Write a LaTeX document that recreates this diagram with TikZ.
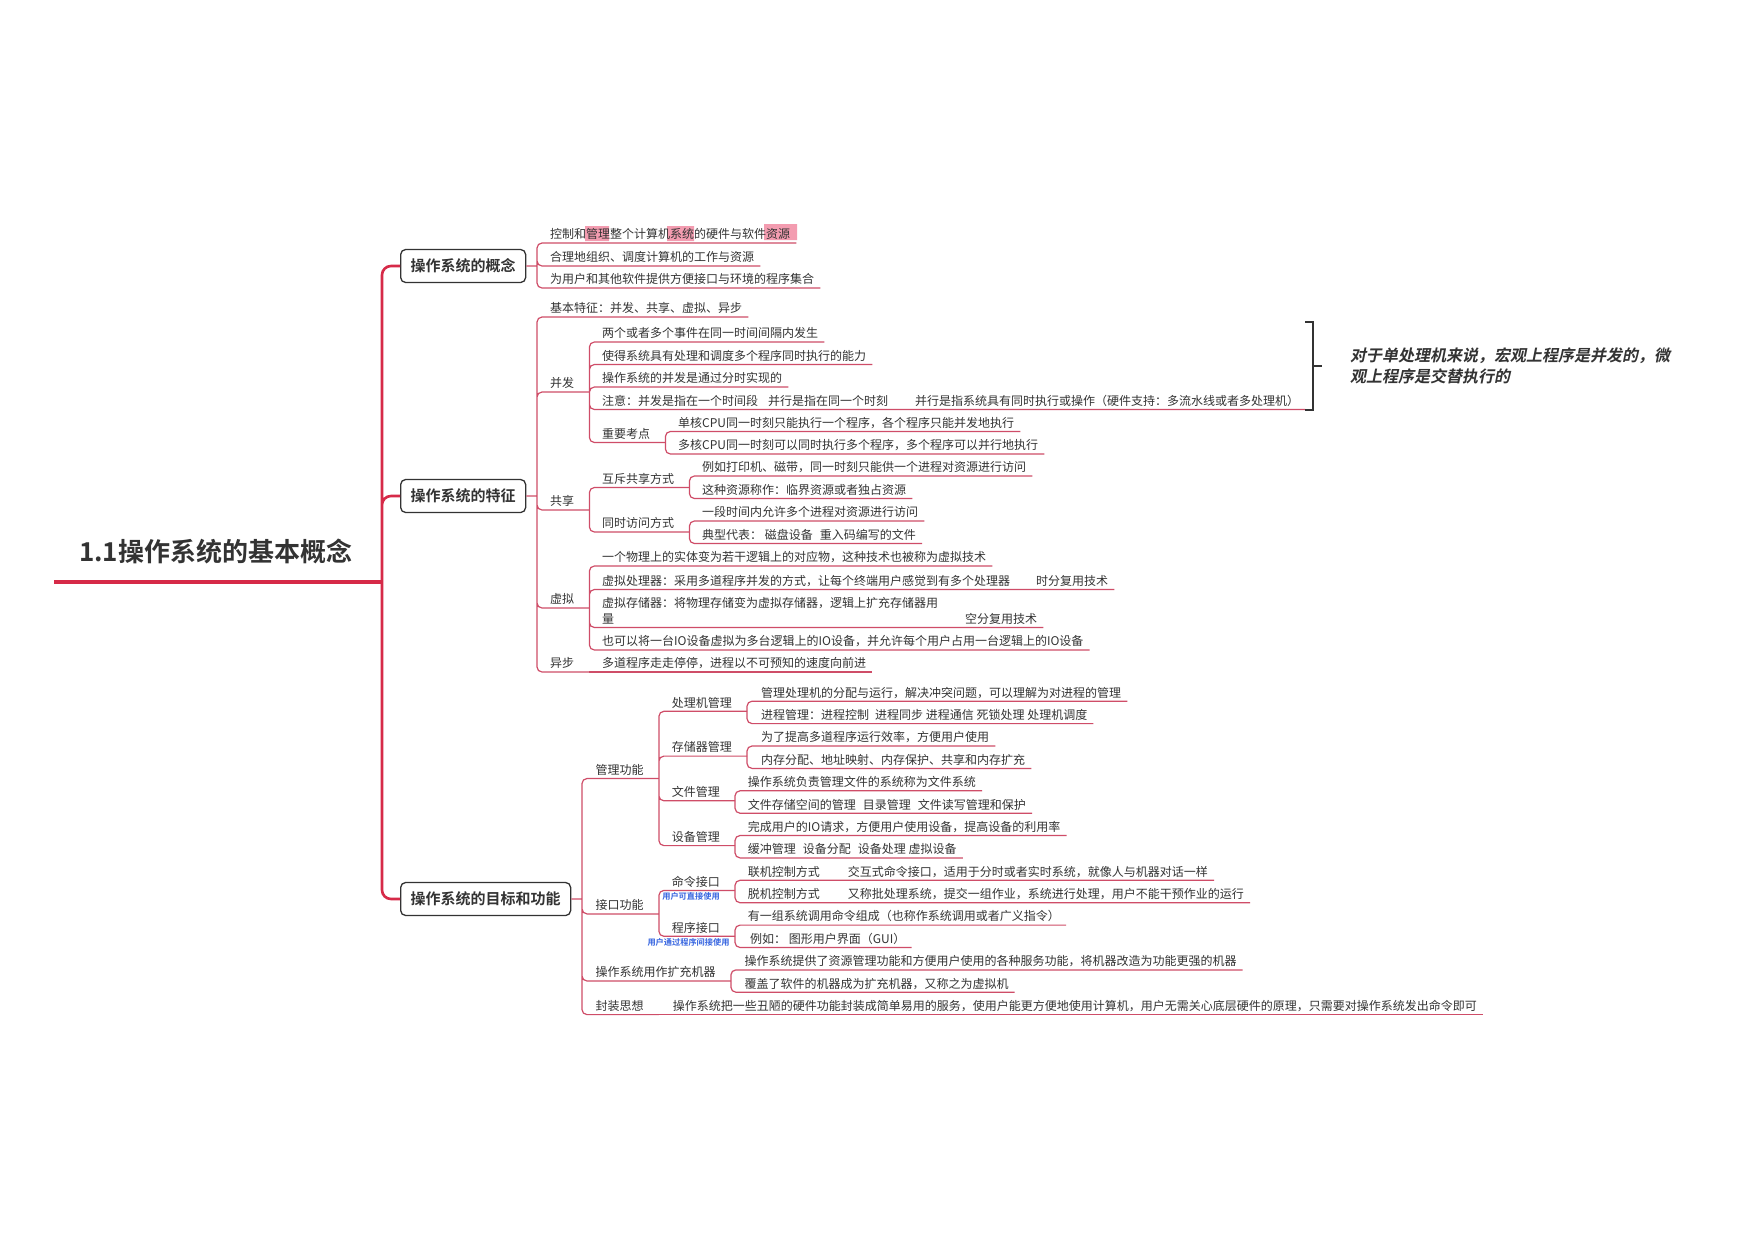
\documentclass[tikz,border=0pt]{standalone}
\usepackage{fontspec}
\setmainfont{Noto Sans CJK SC}[BoldFont={Noto Sans CJK SC Bold}]
\newfontfamily\notefont{Noto Sans CJK SC Bold}[FakeSlant=0.2]
\definecolor{ink}{HTML}{333333}
\definecolor{crimson}{HTML}{D62A48}
\definecolor{rose}{HTML}{CF4D68}
\definecolor{marker}{HTML}{F07C96}
\definecolor{tipblue}{HTML}{3463E0}
\begin{document}
\begin{tikzpicture}[x=1pt,y=-1pt]
\tikzstyle{words}=[anchor=south west,inner ysep=1.5pt,text height=9pt,text depth=2.5pt,text=ink,font=\fontsize{12}{14}\selectfont]
\tikzstyle{leaf}=[words,inner xsep=6pt,xshift=-6pt]
\tikzstyle{hub}=[words,inner xsep=15pt,xshift=-15pt]
\tikzstyle{topic}=[anchor=west,draw=ink,line width=1.3pt,rounded corners=5pt,minimum height=33pt,inner xsep=10pt,text=ink,font=\fontsize{15}{18}\selectfont\bfseries]
\tikzstyle{link}=[draw=rose,line width=1.2pt,rounded corners=5pt]
\tikzstyle{spine}=[draw=crimson,line width=2.6pt,rounded corners=9pt]
\tikzstyle{tip}=[text=tipblue,inner sep=0pt,font=\fontsize{8.2}{9}\selectfont\bfseries]
\fill[white] (0,0) rectangle (1755,1240);
\useasboundingbox (0,0) rectangle (1755,1240);
\node[anchor=south west,inner xsep=25pt,inner ysep=0pt,text depth=20pt,text=ink,font=\fontsize{26}{30}\selectfont\bfseries] (root) at (54,582) {1.1操作系统的基本概念};
\coordinate (hub) at (382,582);
\node[topic] (gainian) at (400,266) {操作系统的概念};
\node[topic] (tezheng) at (400,496) {操作系统的特征};
\node[topic] (mubiao) at (400,899) {操作系统的目标和功能};
\coordinate (gn) at (537,266);
\coordinate (tz) at (537,496);
\coordinate (mb) at (582,899);
\draw[line width=4pt,crimson] (root.south west) -- (hub);
\draw[spine] (hub) |- (gainian.west) (hub) |- (tezheng.west) (hub) |- (mubiao.west);

\fill[marker,opacity=.75] (585,226) rectangle (609,241) (667,226) rectangle (694,241) (764,224) rectangle (797,240);
\node[leaf] (g1) at (550,243) {控制和管理整个计算机系统的硬件与软件资源};
\node[leaf] (g2) at (550,266) {合理地组织、调度计算机的工作与资源};
\node[leaf] (g3) at (550,288) {为用户和其他软件提供方便接口与环境的程序集合};
\draw[link] (gainian.east) -- (gn) (gn) |- (g1.south east) (gn) |- (g2.south east) (gn) |- (g3.south east);

\node[leaf] (jiben) at (550,317) {基本特征：并发、共享、虚拟、异步};
\node[hub] (bingfa) at (550,392) {并发};
\node[leaf] (bf1) at (602,342) {两个或者多个事件在同一时间间隔内发生};
\node[leaf] (bf2) at (602,364.5) {使得系统具有处理和调度多个程序同时执行的能力};
\node[leaf] (bf3) at (602,387) {操作系统的并发是通过分时实现的};
\node[leaf] (bf4) at (602,409.5) {注意：并发是指在一个时间段\hspace{10pt}并行是指在同一个时刻\hspace{27pt}并行是指系统具有同时执行或操作（硬件支持：多流水线或者多处理机）};
\node[hub] (kaodian) at (602,442.5) {重要考点};
\node[leaf] (kd1) at (678,431.5) {单核CPU同一时刻只能执行一个程序，各个程序只能并发地执行};
\node[leaf] (kd2) at (678,454) {多核CPU同一时刻可以同时执行多个程序，多个程序可以并行地执行};
\node[hub] (gongxiang) at (550,510) {共享};
\node[hub] (huchi) at (602,487.5) {互斥共享方式};
\node[leaf] (hc1) at (702,476) {例如打印机、磁带，同一时刻只能供一个进程对资源进行访问};
\node[leaf] (hc2) at (702,498.5) {这种资源称作：临界资源或者独占资源};
\node[hub] (tongshi) at (602,532) {同时访问方式};
\node[leaf] (ts1) at (702,521) {一段时间内允许多个进程对资源进行访问};
\node[leaf] (ts2) at (702,543.5) {典型代表：\ 磁盘设备\hspace{7pt}重入码编写的文件};
\node[hub] (xuni) at (550,608) {虚拟};
\node[leaf] (xn1) at (602,566) {一个物理上的实体变为若干逻辑上的对应物，这种技术也被称为虚拟技术};
\node[leaf] (xn2) at (602,589.5) {虚拟处理器：采用多道程序并发的方式，让每个终端用户感觉到有多个处理器\hspace{26pt}时分复用技术};
\node[leaf] (xn3) at (602,627.5) {\vbox{\baselineskip=15.7pt\hbox{虚拟存储器：将物理存储变为虚拟存储器，逻辑上扩充存储器用}\hbox{量\hspace{351pt}空分复用技术}}};
\node[leaf] (xn4) at (602,650) {也可以将一台IO设备虚拟为多台逻辑上的IO设备，并允许每个用户占用一台逻辑上的IO设备};
\node[hub] (yibu) at (550,672) {异步};
\node[leaf] (yb1) at (602,672) {多道程序走走停停，进程以不可预知的速度向前进};
\draw[link] (tezheng.east) -- (tz) (tz) |- (jiben.south east) (tz) |- (bingfa.south east) (tz) |- (gongxiang.south east) (tz) |- (xuni.south east) (tz) |- (yibu.south east);
\draw[link] (bingfa.south east) |- (bf1.south east) (bingfa.south east) |- (bf2.south east) (bingfa.south east) |- (bf3.south east) (bingfa.south east) |- (bf4.south east) (bingfa.south east) |- (kaodian.south east);
\draw[link] (kaodian.south east) |- (kd1.south east) (kaodian.south east) |- (kd2.south east);
\draw[link] (gongxiang.south east) |- (huchi.south east) (gongxiang.south east) |- (tongshi.south east);
\draw[link] (huchi.south east) |- (hc1.south east) (huchi.south east) |- (hc2.south east);
\draw[link] (tongshi.south east) |- (ts1.south east) (tongshi.south east) |- (ts2.south east);
\draw[link] (xuni.south east) |- (xn1.south east) (xuni.south east) |- (xn2.south east) (xuni.south east) |- (xn3.south east) (xuni.south east) |- (xn4.south east);
\draw[link] (yibu.south east) -- (yb1.south east);

\draw[ink,line width=2.5pt] (1305,322) -- (1313,322) -- (1313,410) -- (1305,410) (1313,366) -- (1322,366);
\node[anchor=west,align=left,inner sep=0pt,text=ink,font=\notefont\fontsize{16}{21}\selectfont] (zongjie) at (1350,366) {对于单处理机来说，宏观上程序是并发的，微\\观上程序是交替执行的};

\node[hub] (guanli) at (595.5,778.5) {管理功能};
\node[hub] (chuliji) at (671.6,711.3) {处理机管理};
\node[leaf] (cl1) at (761,701.2) {管理处理机的分配与运行，解决冲突问题，可以理解为对进程的管理};
\node[leaf] (cl2) at (761,723.6) {进程管理：进程控制\hspace{6pt}进程同步\ 进程通信\ 死锁处理\ 处理机调度};
\node[hub] (cunchu) at (671.6,756.1) {存储器管理};
\node[leaf] (cc1) at (761,746) {为了提高多道程序运行效率，方便用户使用};
\node[leaf] (cc2) at (761,768.4) {内存分配、地址映射、内存保护、共享和内存扩充};
\node[hub] (wenjian) at (671.6,800.8) {文件管理};
\node[leaf] (wj1) at (747.7,790.8) {操作系统负责管理文件的系统称为文件系统};
\node[leaf] (wj2) at (747.7,813.2) {文件存储空间的管理\hspace{7pt}目录管理\hspace{7pt}文件读写管理和保护};
\node[hub] (shebei) at (671.6,845.6) {设备管理};
\node[leaf] (sb1) at (747.7,835.5) {完成用户的IO请求，方便用户使用设备，提高设备的利用率};
\node[leaf] (sb2) at (747.7,857.9) {缓冲管理\hspace{7pt}设备分配\hspace{7pt}设备处理\ 虚拟设备};
\node[hub] (jiekou) at (595.5,913.9) {接口功能};
\node[hub] (mingling) at (671.6,890.4) {命令接口};
\node[leaf] (ml1) at (747.7,880.3) {联机控制方式\hspace{28pt}交互式命令接口，适用于分时或者实时系统，就像人与机器对话一样};
\node[leaf] (ml2) at (747.7,902.7) {脱机控制方式\hspace{28pt}又称批处理系统，提交一组作业，系统进行处理，用户不能干预作业的运行};
\node[hub] (chengxu) at (671.6,936.3) {程序接口};
\node[leaf] (cx1) at (747.7,925.1) {有一组系统调用命令组成（也称作系统调用或者广义指令）};
\node[leaf] (cx2) at (750,947.5) {例如：\ 图形用户界面（GUI）};
\node[tip] (mltip) at (691,896.6) {用户可直接使用};
\node[tip] (cxtip) at (688.5,942.5) {用户通过程序间接使用};
\node[hub] (kuochong) at (595.5,981) {操作系统用作扩充机器};
\node[leaf] (kc1) at (744.3,969.9) {操作系统提供了资源管理功能和方便用户使用的各种服务功能，将机器改造为功能更强的机器};
\node[leaf] (kc2) at (744.3,992.2) {覆盖了软件的机器成为扩充机器，又称之为虚拟机};
\node[hub] (fengzhuang) at (595.5,1014.6) {封装思想};
\node[leaf] (fz1) at (672.7,1014.6) {操作系统把一些丑陋的硬件功能封装成简单易用的服务，使用户能更方便地使用计算机，用户无需关心底层硬件的原理，只需要对操作系统发出命令即可};
\draw[link] (mubiao.east) -- (mb) (mb) |- (guanli.south east) (mb) |- (jiekou.south east) (mb) |- (kuochong.south east) (mb) |- (fengzhuang.south east);
\draw[link] (guanli.south east) |- (chuliji.south east) (guanli.south east) |- (cunchu.south east) (guanli.south east) |- (wenjian.south east) (guanli.south east) |- (shebei.south east);
\draw[link] (chuliji.south east) |- (cl1.south east) (chuliji.south east) |- (cl2.south east);
\draw[link] (cunchu.south east) |- (cc1.south east) (cunchu.south east) |- (cc2.south east);
\draw[link] (wenjian.south east) |- (wj1.south east) (wenjian.south east) |- (wj2.south east);
\draw[link] (shebei.south east) |- (sb1.south east) (shebei.south east) |- (sb2.south east);
\draw[link] (jiekou.south east) |- (mingling.south east) (jiekou.south east) |- (chengxu.south east);
\draw[link] (mingling.south east) |- (ml1.south east) (mingling.south east) |- (ml2.south east);
\draw[link] (chengxu.south east) |- (cx1.south east) (chengxu.south east) |- (cx2.south east);
\draw[link] (kuochong.south east) |- (kc1.south east) (kuochong.south east) |- (kc2.south east);
\draw[link] (fengzhuang.south east) -- (fz1.south east);
\end{tikzpicture}
\end{document}
